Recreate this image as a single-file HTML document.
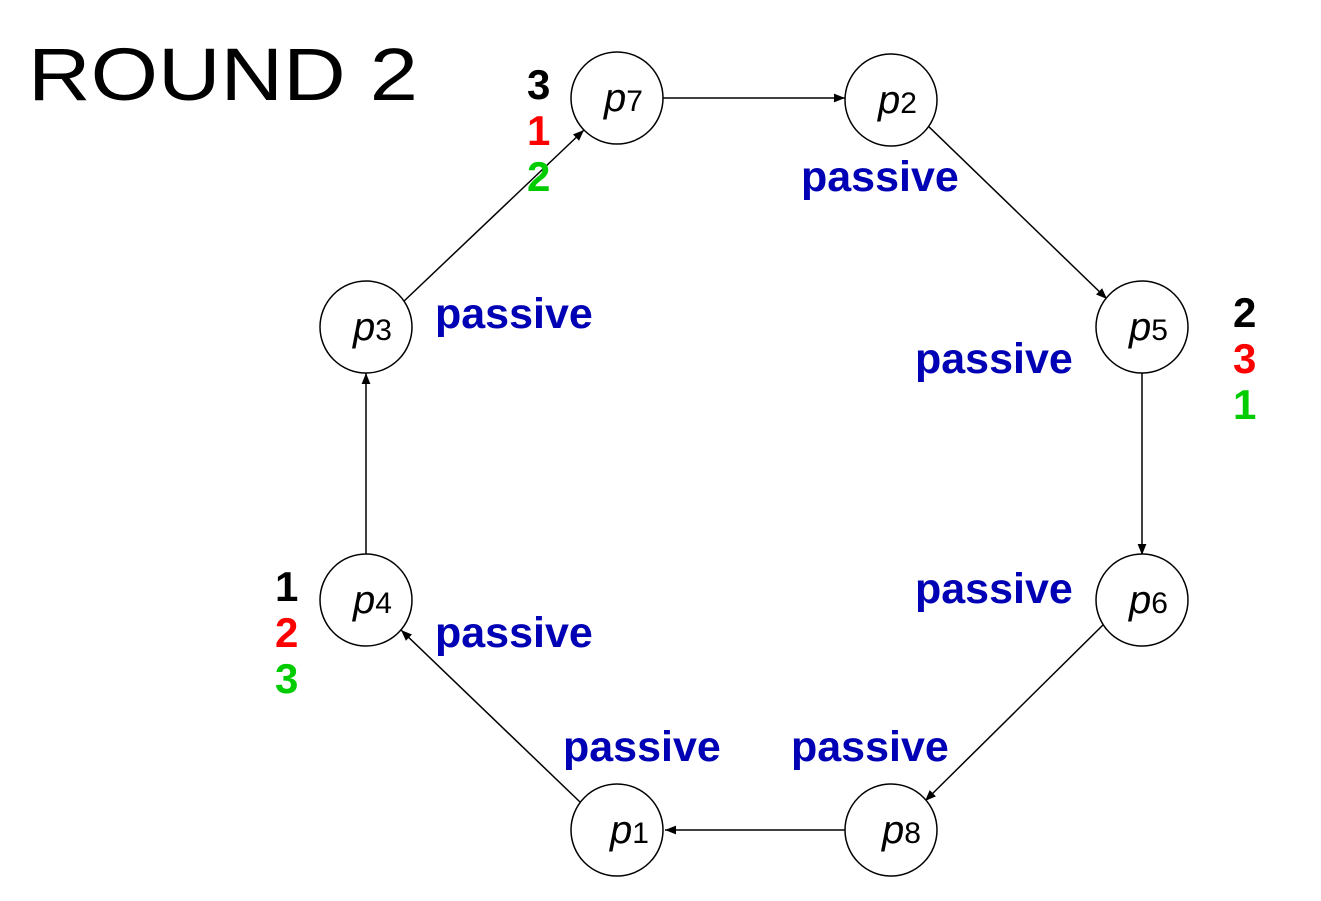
<!DOCTYPE html>
<html><head><meta charset="utf-8"><style>
html,body{margin:0;padding:0;background:#fff;}
svg{display:block;}
.t{font-family:"Liberation Sans",sans-serif;}
</style></head><body>
<svg width="1321" height="901" viewBox="0 0 1321 901">
<defs><marker id="ah" viewBox="0 0 10 10" refX="10" refY="5" markerWidth="15" markerHeight="11" markerUnits="userSpaceOnUse" orient="auto"><path d="M0,1 L10,5 L0,9 z" fill="#000"/></marker></defs>
<text class="t" x="28" y="100" font-size="74" textLength="390" lengthAdjust="spacingAndGlyphs">ROUND 2</text>
<g stroke="#000" stroke-width="1.5" marker-end="url(#ah)">
<line x1="663" y1="98" x2="845" y2="98"/>
<line x1="925" y1="123" x2="1107" y2="299"/>
<line x1="1142" y1="373" x2="1142" y2="555"/>
<line x1="1106" y1="622" x2="925" y2="801"/>
<line x1="845" y1="830" x2="665" y2="830"/>
<line x1="580" y1="802" x2="401" y2="630"/>
<line x1="366" y1="555" x2="366" y2="373"/>
<line x1="402" y1="303" x2="584" y2="130"/>
</g>
<g fill="#fff" stroke="#000" stroke-width="1.5">
<circle cx="617" cy="98" r="46"/>
<circle cx="891" cy="100" r="46"/>
<circle cx="1142" cy="327" r="46"/>
<circle cx="1142" cy="600" r="46"/>
<circle cx="891" cy="830" r="46"/>
<circle cx="617" cy="830" r="46"/>
<circle cx="366" cy="600" r="46"/>
<circle cx="366" cy="327" r="46"/>
</g>
<g class="t" font-size="40" font-style="italic">
<text x="604" y="111">p<tspan font-style="normal" font-size="30">7</tspan></text>
<text x="878" y="113">p<tspan font-style="normal" font-size="30">2</tspan></text>
<text x="1129" y="340">p<tspan font-style="normal" font-size="30">5</tspan></text>
<text x="1129" y="613">p<tspan font-style="normal" font-size="30">6</tspan></text>
<text x="882" y="843">p<tspan font-style="normal" font-size="30">8</tspan></text>
<text x="610" y="843">p<tspan font-style="normal" font-size="30">1</tspan></text>
<text x="353" y="613">p<tspan font-style="normal" font-size="30">4</tspan></text>
<text x="353" y="340">p<tspan font-style="normal" font-size="30">3</tspan></text>
</g>
<g class="t" font-size="43" font-weight="bold" fill="#0000b4">
<text x="801" y="191">passive</text>
<text x="435" y="328">passive</text>
<text x="915" y="373">passive</text>
<text x="915" y="603">passive</text>
<text x="435" y="647">passive</text>
<text x="563" y="761">passive</text>
<text x="791" y="761">passive</text>
</g>
<g class="t" font-size="42" font-weight="bold">
<text x="527" y="99" fill="#000">3</text>
<text x="527" y="145" fill="#f00">1</text>
<text x="527" y="191" fill="#0c0">2</text>
<text x="1233" y="327" fill="#000">2</text>
<text x="1233" y="373" fill="#f00">3</text>
<text x="1233" y="419" fill="#0c0">1</text>
<text x="275" y="601" fill="#000">1</text>
<text x="275" y="647" fill="#f00">2</text>
<text x="275" y="693" fill="#0c0">3</text>
</g>
</svg>
</body></html>
